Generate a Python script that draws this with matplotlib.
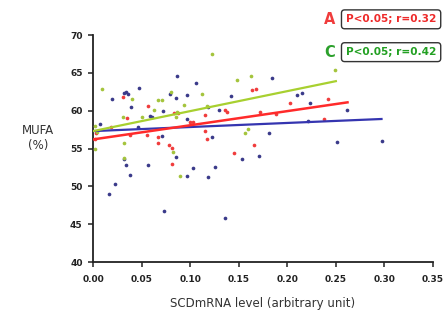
import numpy as np
import matplotlib.pyplot as plt

# scatter data
blue_x = [0.020, 0.032, 0.034, 0.036, 0.039, 0.047, 0.086, 0.106, 0.184, 0.142,
          0.097, 0.079, 0.085, 0.072, 0.059, 0.061, 0.097, 0.118, 0.130, 0.181,
          0.123, 0.071, 0.007, 0.046, 0.085, 0.097, 0.103, 0.118, 0.126, 0.153,
          0.171, 0.032, 0.034, 0.038, 0.057, 0.023, 0.016, 0.073, 0.136, 0.210,
          0.215, 0.223, 0.261, 0.221, 0.251, 0.298]
blue_y = [61.5, 62.3, 62.5, 62.2, 60.5, 63.0, 64.6, 63.7, 64.3, 61.9,
          62.1, 62.2, 61.7, 60.0, 59.3, 59.2, 58.9, 60.5, 60.1, 57.0,
          56.5, 56.7, 58.2, 57.8, 53.9, 51.4, 52.4, 51.2, 52.6, 53.6,
          54.0, 53.6, 52.8, 51.5, 52.8, 50.3, 49.0, 46.7, 45.8, 62.1,
          62.3, 61.0, 60.1, 58.6, 55.9, 56.0]

red_x = [0.031, 0.164, 0.168, 0.057, 0.083, 0.088, 0.100, 0.103, 0.115, 0.136,
         0.138, 0.172, 0.166, 0.117, 0.115, 0.067, 0.067, 0.078, 0.081, 0.081,
         0.145, 0.038, 0.203, 0.242, 0.188, 0.238, 0.019, 0.056, 0.003, 0.002,
         0.035]
red_y = [61.8, 62.7, 62.9, 60.6, 59.7, 59.7, 58.5, 58.5, 59.4, 60.1,
         59.8, 59.8, 55.5, 56.3, 57.3, 56.5, 55.7, 55.5, 55.1, 53.0,
         54.4, 56.8, 61.0, 61.5, 59.6, 58.9, 57.8, 56.8, 57.0, 56.3,
         59.0]

green_x = [0.009, 0.040, 0.123, 0.148, 0.163, 0.112, 0.080, 0.067, 0.071, 0.094,
           0.063, 0.050, 0.031, 0.085, 0.117, 0.156, 0.160, 0.032, 0.002, 0.004,
           0.032, 0.082, 0.090, 0.249, 0.002, 0.086]
green_y = [62.9, 61.5, 67.5, 64.1, 64.6, 62.2, 62.5, 61.4, 61.4, 60.7,
           60.1, 59.2, 59.2, 59.2, 60.6, 57.0, 57.6, 55.7, 58.0, 57.2,
           53.7, 54.5, 51.4, 65.4, 54.9, 59.8]

# regression line end points
fit_blue_x = [0.0, 0.297]
fit_blue_y = [57.3, 58.9]
fit_red_x = [0.0, 0.262]
fit_red_y = [56.2, 61.1]
fit_green_x = [0.0, 0.250]
fit_green_y = [57.3, 63.9]

x_ticks = [0.00, 0.05, 0.10, 0.15, 0.20, 0.25, 0.30, 0.35]
y_ticks = [40, 45, 50, 55, 60, 65, 70]

c_blue = "#3a3a8a"
c_red = "#f03c3c"
c_green = "#a4c43c"

fig = plt.figure(figsize=(4.48, 3.22), dpi=100)
ax = fig.add_axes([0.2076, 0.1863, 0.7589, 0.705])

ax.scatter(blue_x, blue_y, s=7, color=c_blue, zorder=3, linewidths=0)
ax.scatter(red_x, red_y, s=7, color=c_red, zorder=3, linewidths=0)
ax.scatter(green_x, green_y, s=7, color=c_green, zorder=3, linewidths=0)

ax.plot(fit_blue_x, fit_blue_y, color="#3535b0", lw=1.6, zorder=4)
ax.plot(fit_red_x, fit_red_y, color="#ff2a2a", lw=1.8, zorder=4)
ax.plot(fit_green_x, fit_green_y, color="#a8d030", lw=1.6, zorder=4)

ax.set_xlim(0, 0.35)
ax.set_ylim(40, 70)
ax.set_xticks(x_ticks)
ax.set_yticks(y_ticks)
ax.set_xticklabels([f"{v:.2f}" for v in x_ticks], fontsize=6.5,
                   fontweight="bold", color="#333333")
ax.set_yticklabels([str(v) for v in y_ticks], fontsize=6.5,
                   fontweight="bold", color="#333333")

for side in ["top", "right"]:
    ax.spines[side].set_visible(False)
for side in ["left", "bottom"]:
    ax.spines[side].set_linewidth(1.3)
    ax.spines[side].set_color("#222222")
ax.tick_params(direction="out", length=3.5, width=1.1, colors="#222222", pad=4)
ax.tick_params(axis="x", pad=6)

ax.set_xlabel("SCDmRNA level (arbitrary unit)", fontsize=8.5, color="#333333",
              labelpad=9)
fig.text(0.085, 0.57, "MUFA\n(%)", fontsize=8.5, color="#333333",
         ha="center", va="center", linespacing=1.2)

# statistics boxes
box = dict(boxstyle="round,pad=0.42,rounding_size=0.3", fc="white",
           ec="#333333", lw=1.0)
fig.text(0.735, 0.94, "A", color=c_red, fontsize=10.5, fontweight="bold",
         ha="center", va="center")
fig.text(0.873, 0.94, "P<0.05; r=0.32", color="#ee2a2a", fontsize=7.6,
         fontweight="bold", ha="center", va="center", bbox=box)
fig.text(0.735, 0.838, "C", color="#2ca02c", fontsize=10.5, fontweight="bold",
         ha="center", va="center")
fig.text(0.873, 0.838, "P<0.05; r=0.42", color="#22a022", fontsize=7.6,
         fontweight="bold", ha="center", va="center", bbox=box)

fig.savefig("out.png", dpi=100)
